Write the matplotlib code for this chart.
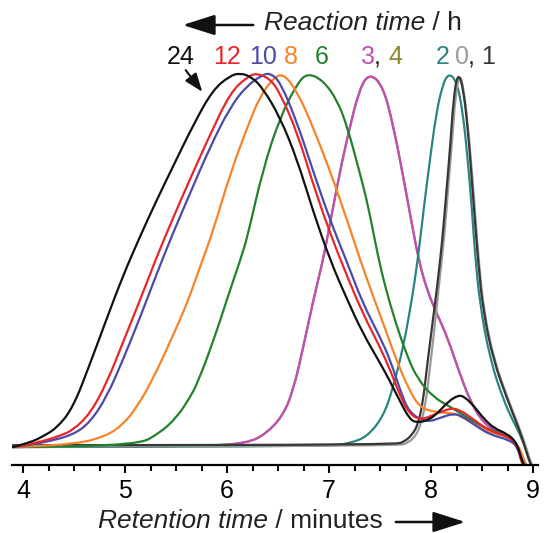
import matplotlib
matplotlib.use('Agg')
import matplotlib.pyplot as plt
from matplotlib.ticker import MultipleLocator
from matplotlib.path import Path
from matplotlib.patches import PathPatch, FancyArrowPatch

plt.rcParams['font.family'] = ['Liberation Sans', 'DejaVu Sans']

# GPC traces: retention time (min) and normalised detector signal
rt_24 = [3.90, 3.97, 4.10, 4.17, 4.33, 4.49, 4.66, 4.82, 4.98, 5.15, 5.31, 5.47, 5.67, 5.86, 6.03,
         6.13, 6.24, 6.35, 6.52, 6.69, 6.84, 7.01, 7.18, 7.33, 7.50, 7.60, 7.70, 7.79, 7.86, 7.98,
         8.08, 8.17, 8.27, 8.33, 8.42, 8.52, 8.62, 8.75, 8.84, 8.89, 8.92]
sig_24 = [0, 0.005, 0.016, 0.025, 0.050, 0.105, 0.225, 0.343, 0.458, 0.565, 0.660, 0.750, 0.862, 0.955, 0.993,
          1.0, 0.990, 0.960, 0.882, 0.767, 0.634, 0.500, 0.393, 0.305, 0.225, 0.175, 0.120, 0.075, 0.065, 0.072,
          0.095, 0.122, 0.139, 0.134, 0.110, 0.075, 0.050, 0.035, 0.012, -0.035, -0.05]

rt_12 = [3.90, 4.00, 4.20, 4.36, 4.49, 4.66, 4.82, 4.98, 5.15, 5.31, 5.47, 5.64, 5.80, 6.03, 6.20,
         6.29, 6.42, 6.52, 6.69, 6.84, 7.01, 7.18, 7.33, 7.50, 7.60, 7.70, 7.79, 7.90, 8.06, 8.19,
         8.28, 8.41, 8.58, 8.77, 8.85, 8.89, 8.92]
sig_12 = [0, 0.004, 0.016, 0.030, 0.045, 0.090, 0.171, 0.280, 0.395, 0.508, 0.612, 0.718, 0.815, 0.948, 0.990,
          1.0, 0.985, 0.947, 0.840, 0.706, 0.572, 0.455, 0.358, 0.267, 0.206, 0.135, 0.088, 0.072, 0.090, 0.104,
          0.100, 0.075, 0.042, 0.027, 0.005, -0.043, -0.05]

rt_10 = [3.90, 4.00, 4.20, 4.49, 4.66, 4.82, 4.98, 5.15, 5.31, 5.47, 5.64, 5.83, 6.03, 6.20, 6.35,
         6.42, 6.52, 6.69, 6.84, 7.01, 7.18, 7.33, 7.50, 7.60, 7.70, 7.79, 7.96, 8.09, 8.22, 8.31,
         8.45, 8.58, 8.77, 8.85, 8.89, 8.92]
sig_10 = [0, 0.003, 0.012, 0.032, 0.067, 0.134, 0.233, 0.348, 0.463, 0.572, 0.680, 0.800, 0.909, 0.968, 0.995,
          1.0, 0.978, 0.866, 0.741, 0.607, 0.492, 0.385, 0.294, 0.233, 0.150, 0.090, 0.066, 0.078, 0.090, 0.082,
          0.055, 0.033, 0.019, 0.0, -0.045, -0.05]

rt_8 = [3.90, 4.53, 4.82, 4.98, 5.12, 5.27, 5.44, 5.57, 5.64, 5.76, 5.86, 6.03, 6.20, 6.32, 6.45,
        6.55, 6.69, 6.84, 7.01, 7.10, 7.21, 7.30, 7.43, 7.53, 7.66, 7.79, 7.89, 8.02, 8.19, 8.28,
        8.45, 8.61, 8.77, 8.87, 8.92, 8.94]
sig_8 = [0, 0.008, 0.030, 0.060, 0.108, 0.180, 0.280, 0.360, 0.408, 0.500, 0.575, 0.730, 0.856, 0.936, 0.985,
         1.0, 0.950, 0.858, 0.738, 0.668, 0.580, 0.505, 0.405, 0.332, 0.233, 0.150, 0.107, 0.094, 0.091, 0.085,
         0.055, 0.037, 0.027, 0.0, -0.045, -0.05]

rt_6 = [3.90, 5.12, 5.34, 5.51, 5.64, 5.71, 5.86, 6.03, 6.13, 6.20, 6.35, 6.52, 6.69, 6.79, 6.94,
        7.08, 7.18, 7.30, 7.38, 7.48, 7.55, 7.65, 7.77, 7.87, 8.02, 8.19, 8.35, 8.51, 8.68, 8.84,
        8.90, 8.93]
sig_6 = [0, 0.005, 0.037, 0.080, 0.134, 0.171, 0.278, 0.420, 0.500, 0.561, 0.741, 0.882, 0.973, 1.0, 0.981,
         0.928, 0.856, 0.735, 0.650, 0.510, 0.430, 0.335, 0.240, 0.182, 0.134, 0.107, 0.080, 0.053, 0.037, 0.013,
         -0.043, -0.05]

rt_3 = [3.90, 5.74, 6.20, 6.39, 6.55, 6.65, 6.75, 6.84, 6.91, 6.96, 7.08, 7.18, 7.30, 7.40, 7.53,
        7.63, 7.73, 7.82, 7.88, 7.96, 8.06, 8.16, 8.28, 8.38, 8.51, 8.68, 8.84, 8.92, 8.94]
sig_3 = [0, 0.002, 0.010, 0.037, 0.085, 0.152, 0.270, 0.385, 0.465, 0.525, 0.700, 0.829, 0.960, 1.0, 0.965,
         0.860, 0.720, 0.585, 0.500, 0.420, 0.355, 0.294, 0.198, 0.126, 0.064, 0.037, 0.013, -0.043, -0.05]

# 4 h trace coincides with the 3 h one
rt_4 = [3.90, 5.74, 6.20, 6.39, 6.55, 6.65, 6.75, 6.84, 6.91, 6.96, 7.08, 7.18, 7.30, 7.40, 7.53,
        7.63, 7.73, 7.82, 7.88, 7.96, 8.06, 8.16, 8.28, 8.38, 8.51, 8.68, 8.84, 8.92, 8.94]
sig_4 = [0, 0.002, 0.010, 0.037, 0.085, 0.152, 0.270, 0.385, 0.465, 0.525, 0.700, 0.829, 0.960, 1.0, 0.965,
         0.860, 0.720, 0.585, 0.500, 0.420, 0.355, 0.294, 0.198, 0.126, 0.064, 0.037, 0.013, -0.043, -0.05]

rt_2 = [3.90, 7.01, 7.21, 7.37, 7.53, 7.63, 7.73, 7.81, 7.87, 7.93, 7.99, 8.05, 8.11, 8.17, 8.25,
        8.31, 8.36, 8.40, 8.43, 8.48, 8.58, 8.71, 8.80, 8.90, 8.97, 8.99]
sig_2 = [0, 0.002, 0.011, 0.027, 0.080, 0.160, 0.270, 0.390, 0.500, 0.640, 0.770, 0.890, 0.965, 1.0, 0.980,
         0.900, 0.770, 0.640, 0.520, 0.380, 0.233, 0.126, 0.072, 0.019, -0.043, -0.05]

rt_1 = [3.90, 7.65, 7.75, 7.82, 7.87, 7.92, 7.96, 8.01, 8.06, 8.11, 8.15, 8.19, 8.22, 8.26, 8.31,
        8.36, 8.41, 8.46, 8.51, 8.61, 8.75, 8.84, 8.90, 8.97, 8.99]
sig_1 = [0.005, 0.006, 0.016, 0.035, 0.059, 0.118, 0.214, 0.321, 0.428, 0.550, 0.680, 0.810, 0.930, 1.0, 0.970,
         0.856, 0.679, 0.500, 0.366, 0.233, 0.126, 0.064, 0.019, -0.043, -0.05]

rt_0 = [3.90, 7.68, 7.78, 7.85, 7.90, 7.95, 7.99, 8.04, 8.08, 8.13, 8.17, 8.21, 8.24, 8.28, 8.32,
        8.37, 8.42, 8.47, 8.52, 8.62, 8.76, 8.85, 8.91, 8.98, 9.00]
sig_0 = [0.002, 0.003, 0.012, 0.030, 0.060, 0.120, 0.214, 0.330, 0.440, 0.560, 0.700, 0.830, 0.940, 1.0, 0.960,
         0.840, 0.670, 0.490, 0.360, 0.230, 0.125, 0.062, 0.018, -0.043, -0.05]

# label, x, y, colour  (drawn back to front)
traces = [
    ('4', rt_4, sig_4, '#8a8a30'),
    ('3', rt_3, sig_3, '#c04fb6'),
    ('2', rt_2, sig_2, '#2a8580'),
    ('0', rt_0, sig_0, '#9a9a9a'),
    ('1', rt_1, sig_1, '#3a3634'),
    ('6', rt_6, sig_6, '#23802e'),
    ('8', rt_8, sig_8, '#f5842a'),
    ('10', rt_10, sig_10, '#4a4aaa'),
    ('12', rt_12, sig_12, '#e8262a'),
    ('24', rt_24, sig_24, '#111111'),
]


def smooth_path(x, y):
    # quadratic bezier through segment midpoints, read points as control points
    pts = list(zip(x, y))
    mid = lambda a, b: ((a[0] + b[0]) / 2, (a[1] + b[1]) / 2)
    verts = [pts[0], mid(pts[0], pts[1])]
    codes = [Path.MOVETO, Path.LINETO]
    for i in range(1, len(pts) - 1):
        verts += [pts[i], mid(pts[i], pts[i + 1])]
        codes += [Path.CURVE3, Path.CURVE3]
    verts.append(pts[-1])
    codes.append(Path.LINETO)
    return Path(verts, codes)


W, H = 544, 533
fig = plt.figure(figsize=(W / 100, H / 100), dpi=100)
ax = fig.add_axes([12 / W, 1 - 465 / H, 526 / W, 405 / H])

for name, x, y, c in traces:
    ax.add_patch(PathPatch(smooth_path(x, y), facecolor='none', edgecolor=c, lw=1.6,
                           capstyle='round', joinstyle='round'))

ax.set_xlim(3.892, 9.049)
ax.set_ylim(-0.048, 1.035)
for s in ['top', 'right', 'left']:
    ax.spines[s].set_visible(False)
ax.spines['bottom'].set_linewidth(1.6)
ax.set_yticks([])
ax.xaxis.set_major_locator(MultipleLocator(1))
ax.xaxis.set_minor_locator(MultipleLocator(0.25))
ax.tick_params(axis='x', which='major', direction='out', length=6, width=1.5, labelsize=18, pad=4)
ax.tick_params(axis='x', which='minor', direction='out', length=4, width=1.5)


def fx(px):
    return px / W


def fy(py):
    return 1 - py / H


def run(px, py, pieces, size=19):
    # write consecutive text pieces left to right
    r = fig.canvas.get_renderer()
    x = fx(px)
    for s, c, st in pieces:
        t = fig.text(x, fy(py), s, color=c, style=st, fontsize=size, ha='left', va='center')
        bb = t.get_window_extent(renderer=r)
        x += bb.width / W


# peak labels
peak_labels = [
    ('24', 181, '#111111'), ('12', 227, '#e8262a'), ('10', 263, '#4a4aaa'),
    ('8', 291, '#f5842a'), ('6', 322, '#23802e'), ('3', 368, '#c04fb6'),
    (',', 377, '#222222'), ('4', 395, '#8a8a30'), ('2', 443, '#2a8580'),
    ('0', 462, '#9a9a9a'), (',', 471, '#222222'), ('1', 488, '#3a3634'),
]
for s, px, c in peak_labels:
    fig.text(fx(px), fy(57), s, color=c, fontsize=18, ha='center', va='center')

# axis captions with arrows
run(264, 23, [('Reaction time', '#222222', 'italic'), (' / h', '#222222', 'normal')])
fig.add_artist(FancyArrowPatch(
    (fx(256), fy(25)), (fx(180), fy(25)), transform=fig.transFigure,
    arrowstyle='-|>,head_length=1.1,head_width=0.35', mutation_scale=18, lw=1.8, color='#111111'))

run(98, 521, [('Retention time', '#222222', 'italic'), (' / minutes', '#222222', 'normal')])
fig.add_artist(FancyArrowPatch(
    (fx(393), fy(522)), (fx(468), fy(522)), transform=fig.transFigure,
    arrowstyle='-|>,head_length=1.1,head_width=0.35', mutation_scale=18, lw=1.8, color='#111111'))

fig.add_artist(FancyArrowPatch(
    (fx(184), fy(68)), (fx(204), fy(94)), transform=fig.transFigure,
    arrowstyle='-|>,head_length=0.8,head_width=0.3', mutation_scale=14, lw=1.5, color='#111111'))

fig.savefig('out.png', dpi=100)
